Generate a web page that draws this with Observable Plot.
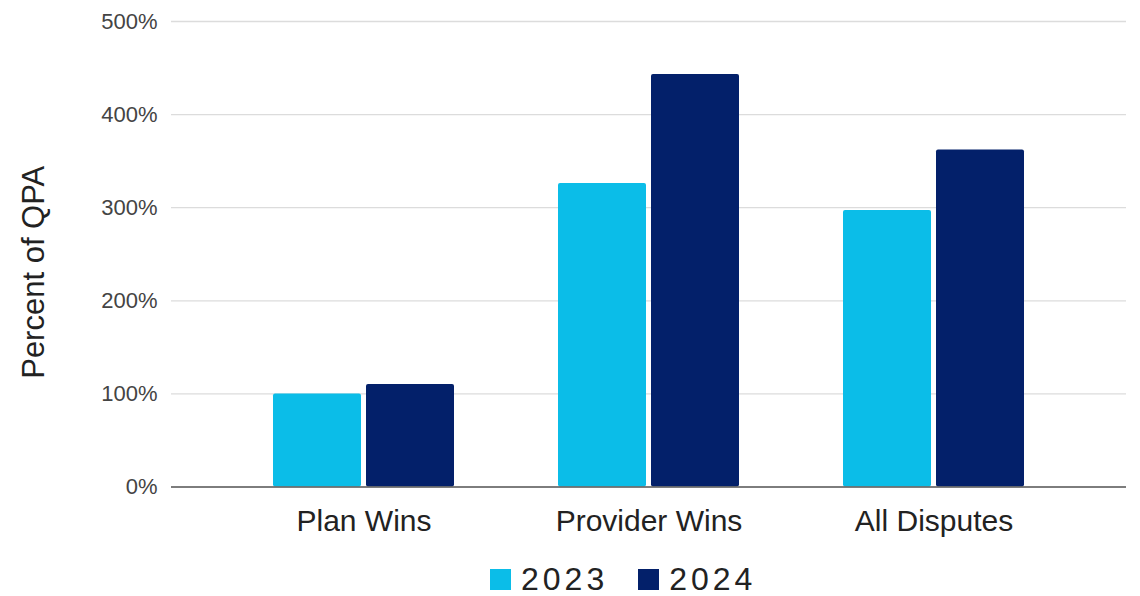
<!DOCTYPE html>
<html>
<head>
<meta charset="utf-8">
<script src="https://cdn.jsdelivr.net/npm/d3@7"></script>
<script src="https://cdn.jsdelivr.net/npm/@observablehq/plot@0.6"></script>
<style>
  html, body { margin: 0; padding: 0; background: #fff; }
  body { width: 1140px; font-family: "Liberation Sans", Arial, sans-serif; }
  #chart svg { display: block; }
  .legend { display: flex; align-items: center; padding-top: 13px; padding-left: 490px; font-size: 32px; line-height: 1; color: #222; }
  .legend .sw { width: 21px; height: 21px; display: inline-block; margin-right: 10px; }
  .legend .item { display: flex; align-items: center; margin-right: 30px; letter-spacing: 4px; }
</style>
</head>
<body>
<div id="chart"></div>
<div class="legend" id="legend"></div>
<script>
const categories = ["Plan Wins", "Provider Wins", "All Disputes"];
const years = ["2023", "2024"];
const values2023 = [100, 326, 297];
const values2024 = [110, 443, 362];
const yTicks = [0, 100, 200, 300, 400, 500];
const colors = ["#0bbde8", "#03206a"];
const yTitle = "Percent of QPA";

const data = [];
categories.forEach((c, i) => {
  data.push({category: c, year: years[0], value: values2023[i]});
  data.push({category: c, year: years[1], value: values2024[i]});
});

const font = '"Liberation Sans", Arial, sans-serif';

const chart = Plot.plot({
  width: 1140,
  height: 550,
  marginLeft: 171,
  marginRight: 14,
  marginTop: 21,
  marginBottom: 63.5,
  style: {fontFamily: font, background: "#fff"},
  x: {domain: categories, paddingInner: 0.366, paddingOuter: 0.3555},
  y: {domain: [0, 500]},
  marks: [
    Plot.gridY(yTicks, {stroke: "#dcdcdc", strokeOpacity: 1, strokeWidth: 1.3}),
    Plot.barY(data.filter(d => d.year === years[0]), {x: "category", y: "value", fill: colors[0], insetRight: 93, rx: 2}),
    Plot.barY(data.filter(d => d.year === years[1]), {x: "category", y: "value", fill: colors[1], insetLeft: 93, rx: 2}),
    Plot.ruleY([0], {stroke: "#5a5a5a", strokeWidth: 1.6}),
    Plot.axisY(yTicks, {tickFormat: d => d + "%", tickSize: 0, tickPadding: 14, fontSize: 22, color: "#444", label: null}),
    Plot.axisX({tickSize: 0, tickPadding: 22.5, fontSize: 30, color: "#222", label: null}),
    Plot.text([yTitle], {frameAnchor: "left", rotate: -90, dx: -137, dy: 18, fontSize: 31, fill: "#222", textAnchor: "middle", lineAnchor: "middle"})
  ]
});
document.getElementById("chart").appendChild(chart);

const legend = document.getElementById("legend");
years.forEach((y, i) => {
  const item = document.createElement("span");
  item.className = "item";
  const sw = document.createElement("span");
  sw.className = "sw";
  sw.style.background = colors[i];
  item.appendChild(sw);
  item.appendChild(document.createTextNode(y));
  legend.appendChild(item);
});
</script>
</body>
</html>
